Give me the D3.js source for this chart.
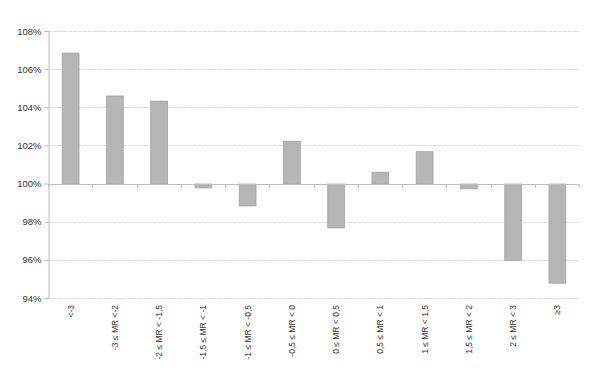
<!DOCTYPE html>
<html><head><meta charset="utf-8">
<script src="https://cdn.jsdelivr.net/npm/d3@7"></script>
<style>body{margin:0;background:#fff;} svg{display:block;font-family:"Liberation Sans",Arial,sans-serif;}</style>
</head><body>
<svg id="c" width="600" height="377"></svg>
<script>
const categories = ["<-3","-3 ≤ MR <-2","-2 ≤ MR < -1,5","-1,5 ≤ MR < -1","-1 ≤ MR < -0,5","-0,5 ≤ MR < 0","0 ≤ MR < 0,5","0,5 ≤ MR < 1","1 ≤ MR < 1,5","1,5 ≤ MR < 2","2 ≤ MR < 3","≥3"];
const values = [106.87, 104.62, 104.35, 99.8, 98.85, 102.25, 97.7, 100.62, 101.7, 99.75, 96.0, 94.8];
const yTicks = [94, 96, 98, 100, 102, 104, 106, 108];
const baseline = 100;

(function(){
const svg = d3.select("#c");
const mL = 48, mR = 579, mT = 31, mB = 298;
const x = d3.scaleBand().domain(categories).range([mL, mR]).paddingInner(0.62).paddingOuter(0.31);
const y = d3.scaleLinear().domain([94, 108]).range([mB, mT]);

// gridlines
svg.append("g").selectAll("line").data(yTicks).join("line")
  .attr("x1", mL).attr("x2", mR)
  .attr("y1", d => Math.round(y(d))+0.5).attr("y2", d => Math.round(y(d))+0.5)
  .attr("stroke", "#dcdcdc").attr("stroke-width", 1).attr("stroke-dasharray", "4,1");

// y axis
const yAxis = d3.axisLeft(y).tickValues(yTicks).tickFormat(d => d + "%").tickSize(4).tickPadding(3);
const ya = svg.append("g").attr("transform", `translate(${mL+0.5},0)`).call(yAxis);
ya.select(".domain").attr("stroke", "#bdbdbd");
ya.selectAll(".tick line").attr("stroke", "#bdbdbd");
ya.selectAll("text").attr("font-size", 9.5).attr("fill", "#333").attr("font-family", "'Liberation Sans',Arial,sans-serif");

// bars
svg.append("g").selectAll("rect").data(values).join("rect")
  .attr("x", (d,i) => x(categories[i]) + 0.5)
  .attr("width", x.bandwidth())
  .attr("y", d => Math.min(y(d), y(baseline)) + 0.5)
  .attr("height", d => Math.abs(y(d) - y(baseline)))
  .attr("fill", "#b5b5b5").attr("stroke", "#a3a3a3").attr("stroke-width", 0.8);

// baseline axis
const y0 = Math.round(y(baseline)) + 0.5;
svg.append("line").attr("x1", mL).attr("x2", mR).attr("y1", y0).attr("y2", y0)
  .attr("stroke", "#bdbdbd").attr("stroke-width", 1);
const boundaries = d3.range(categories.length + 1).map(i => mL + i * (mR - mL) / categories.length);
svg.append("g").selectAll("line").data(boundaries).join("line")
  .attr("x1", d => Math.round(d)+0.5).attr("x2", d => Math.round(d)+0.5)
  .attr("y1", y0).attr("y2", y0 + 3).attr("stroke", "#bdbdbd");

// category labels
svg.append("g").selectAll("text").data(categories).join("text")
  .attr("transform", d => `translate(${x(d) + x.bandwidth()/2 + 3.5},305) rotate(-90)`)
  .attr("text-anchor", "end")
  .attr("font-size", 8.5).attr("fill", "#333")
  .text(d => d);
})();
</script>
</body></html>
